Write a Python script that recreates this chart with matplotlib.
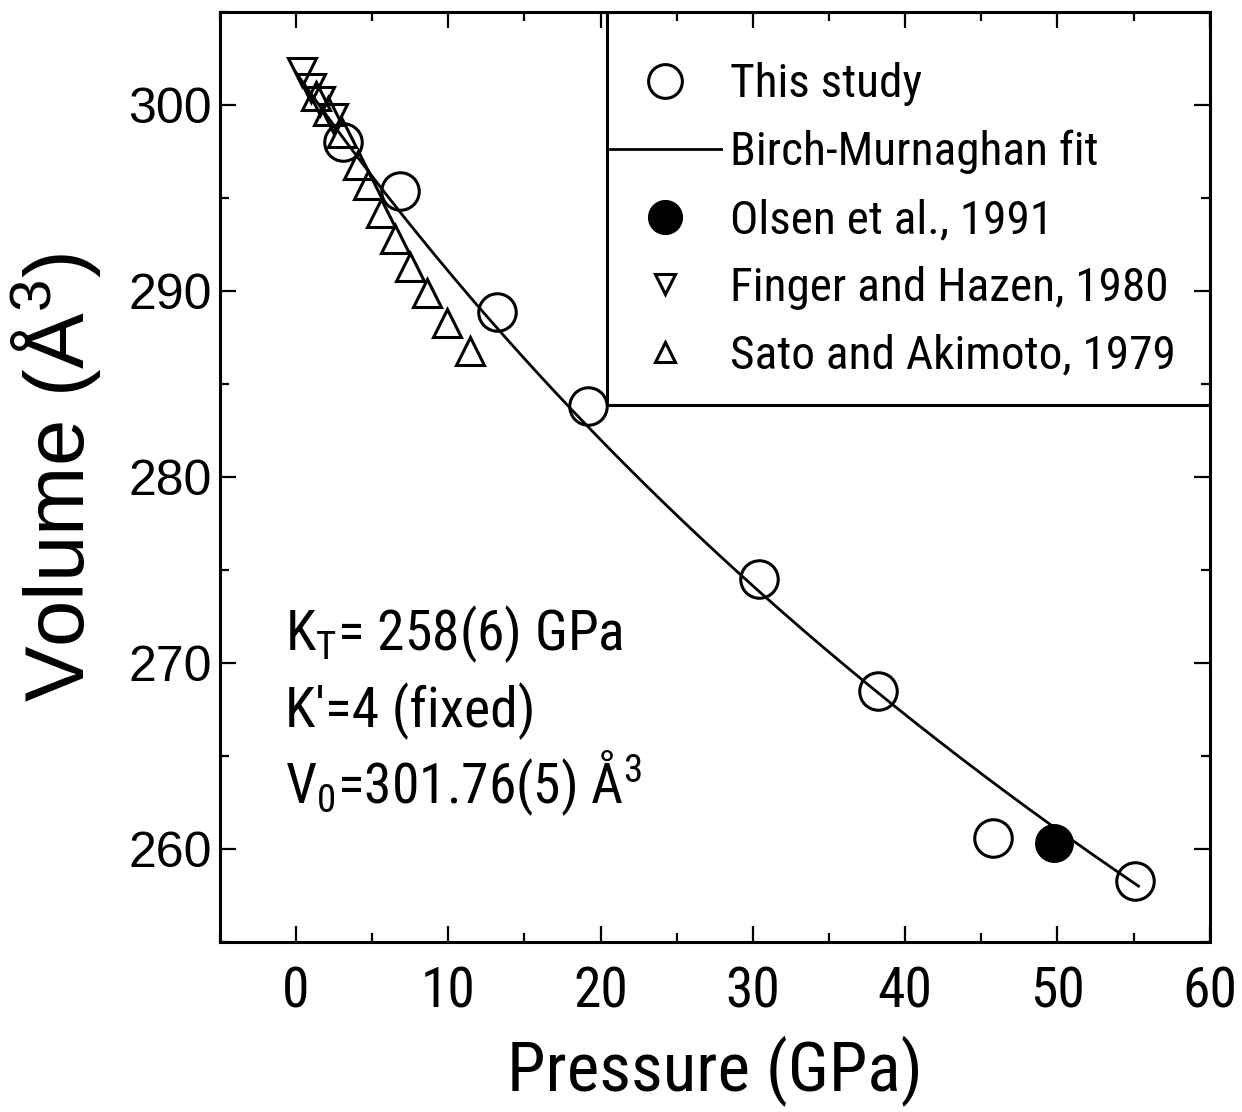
import numpy as np
import matplotlib
matplotlib.use("Agg")
import matplotlib.pyplot as plt
from matplotlib.patches import Rectangle

# Pressure (GPa) / volume (Å^3) data
this_study_p = [3.1, 6.8, 13.2, 19.2, 30.4, 38.2, 45.8, 55.1]
this_study_v = [298.0, 295.4, 288.9, 283.8, 274.5, 268.5, 260.6, 258.3]

olsen_p = [49.8]
olsen_v = [260.3]

finger_p = [0.4, 1.0, 1.6, 2.4]
finger_v = [301.8, 300.9, 300.2, 299.3]

sato_p = [1.3, 2.1, 3.0, 4.1, 4.7, 5.6, 6.5, 7.5, 8.6, 9.9, 11.4]
sato_v = [300.5, 299.7, 298.5, 296.8, 295.7, 294.2, 292.8, 291.3, 289.9, 288.3, 286.8]

# Birch-Murnaghan fit parameters
K0 = 258.0      # GPa
K0_prime = 4.0
V0 = 301.76     # Å^3

x_ticks = [0, 10, 20, 30, 40, 50, 60]
y_ticks = [260, 270, 280, 290, 300]

narrow = ["Roboto Condensed", "Archivo Narrow", "PT Sans Narrow",
          "IBM Plex Sans Condensed", "Liberation Sans", "DejaVu Sans"]
regular = ["Liberation Sans", "DejaVu Sans"]

plt.rcParams["font.family"] = narrow

fig = plt.figure(figsize=(12.42, 11.12), dpi=100)
ax = fig.add_axes([0.177, 0.153, 0.797, 0.836])

# Third-order Birch-Murnaghan curve evaluated from the fitted parameters
v_fit = np.linspace(V0, 258.0, 400)
eta = V0 / v_fit
p_fit = 1.5 * K0 * (eta ** (7 / 3) - eta ** (5 / 3)) * (
    1 + 0.75 * (K0_prime - 4) * (eta ** (2 / 3) - 1))

ax.plot(p_fit, v_fit, color="black", lw=2.0, zorder=2,
        label="Birch-Murnaghan fit")
ax.plot(this_study_p, this_study_v, "o", ms=27, mfc="none", mec="black",
        mew=2.2, zorder=4, label="This study")
ax.plot(olsen_p, olsen_v, "o", ms=27, mfc="black", mec="black",
        zorder=4, label="Olsen et al., 1991")
ax.plot(finger_p, finger_v, "v", ms=20, mfc="none", mec="black",
        mew=2.2, zorder=3, label="Finger and Hazen, 1980")
ax.plot(sato_p, sato_v, "^", ms=20, mfc="none", mec="black",
        mew=2.2, zorder=3, label="Sato and Akimoto, 1979")

ax.set_xlim(-5, 60)
ax.set_ylim(255, 305)
ax.set_xticks(x_ticks)
ax.set_yticks(y_ticks)
ax.set_xticks(np.arange(-5, 61, 5), minor=True)
ax.set_yticks(np.arange(255, 306, 5), minor=True)

ax.tick_params(which="both", direction="in", top=True, right=True,
               width=1.6, color="black")
ax.tick_params(which="major", length=11.5)
ax.tick_params(which="minor", length=6.5)
ax.tick_params(axis="x", which="major", pad=17, labelsize=40)
ax.tick_params(axis="y", which="major", pad=6, labelsize=36)
for lab in ax.get_yticklabels():
    lab.set_family(regular)

for side in ["left", "bottom", "top", "right"]:
    ax.spines[side].set_linewidth(2.2)
    ax.spines[side].set_color("black")

ax.set_xlabel("Pressure (GPa)", fontsize=50, labelpad=12)
ax.set_ylabel(r"Volume (Å$^{\mathregular{3}}$)", fontsize=60, labelpad=18,
              family=regular)

# Fit parameters
ax.text(0.066, 0.314, r"K$_\mathregular{T}$= 258(6) GPa", fontsize=40,
        transform=ax.transAxes, va="baseline")
ax.text(0.066, 0.231, "K'=4 (fixed)", fontsize=40,
        transform=ax.transAxes, va="baseline")
ax.text(0.066, 0.149, r"V$_\mathregular{0}$=301.76(5) Å$^\mathregular{3}$",
        fontsize=40, transform=ax.transAxes, va="baseline")

# Legend box and entries
ax.add_patch(Rectangle((0.391, 0.577), 0.609, 0.423, transform=ax.transAxes,
                       fill=False, ec="black", lw=2.2, zorder=5))
handles, labels = ax.get_legend_handles_labels()
order = [1, 0, 2, 3, 4]
leg = ax.legend([handles[i] for i in order], [labels[i] for i in order],
                loc="upper left", bbox_to_anchor=(0.394, 0.946),
                frameon=False, fontsize=34, borderpad=0, borderaxespad=0,
                handlelength=2.35, handletextpad=0.2, labelspacing=0.5,
                markerscale=0.9)
for h in leg.legend_handles:
    if hasattr(h, "get_marker") and h.get_marker() in ("v", "^"):
        h.set_markersize(15)

fig.savefig("out.png", dpi=100)
